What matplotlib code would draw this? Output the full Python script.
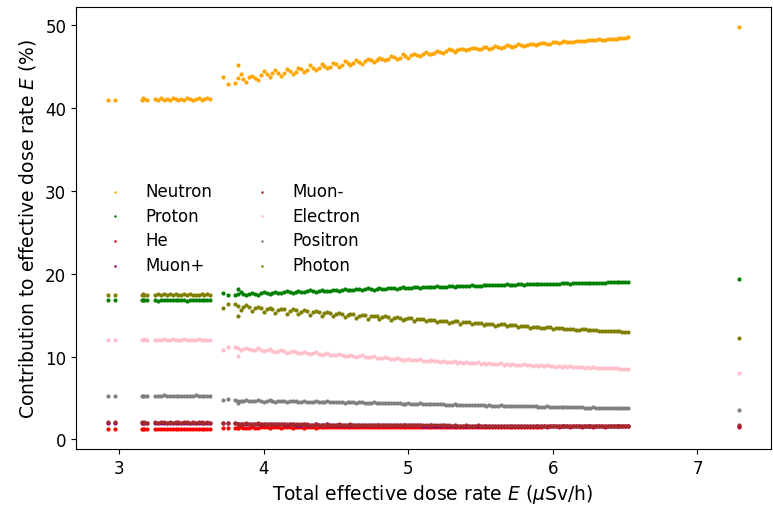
import matplotlib
matplotlib.use("Agg")
import matplotlib.pyplot as plt

plt.rcParams['font.family'] = ['DejaVu Sans']
plt.rcParams['font.size'] = 12

# Total effective dose rate (x), grouped: early, transition, main band, outlier
dose_total = [
    2.92, 2.97, 3.155, 3.165, 3.175, 3.19, 3.25, 3.27, 3.29, 3.31, 3.33, 3.35, 3.37,
    3.39, 3.41, 3.43, 3.45, 3.47, 3.49, 3.51, 3.53, 3.55, 3.57, 3.59, 3.61, 3.625,
    3.72, 3.755, 3.82,
    3.80, 3.84, 3.88, 3.92, 3.96, 4.00, 4.04, 4.08, 4.12, 4.16, 4.20, 4.24, 4.28,
    4.32, 4.36, 4.40, 4.44, 4.48, 4.52, 4.56, 4.60, 4.64, 4.68, 4.72, 4.76, 4.80,
    4.84, 4.88, 4.92, 4.96, 5.00, 5.04, 5.08, 5.12, 5.16, 5.20, 5.24, 5.28, 5.32,
    5.36, 5.40, 5.44, 5.48, 5.52, 5.56, 5.60, 5.64, 5.68, 5.72, 5.76, 5.80, 5.84,
    5.88, 5.92, 5.96, 6.00, 6.04, 6.08, 6.12, 6.16, 6.20, 6.24, 6.28, 6.32, 6.36,
    6.40, 6.44, 6.48, 6.52,
    7.29,
]
# Second row of main-band samples (in between the first row)
dose_total_b = [
    3.82, 3.86, 3.90, 3.94, 3.98, 4.02, 4.06, 4.10, 4.14, 4.18,
    4.22, 4.26, 4.30, 4.34, 4.38, 4.42, 4.46, 4.50, 4.54, 4.58,
    4.62, 4.66, 4.70, 4.74, 4.78, 4.82, 4.86, 4.90, 4.94, 4.98,
    5.02, 5.06, 5.10, 5.14, 5.18, 5.22, 5.26, 5.30, 5.34, 5.38,
    5.42, 5.46, 5.50, 5.54, 5.58, 5.62, 5.66, 5.70, 5.74, 5.78,
    5.82, 5.86, 5.90, 5.94, 5.98, 6.02, 6.06, 6.10, 6.14, 6.18,
    6.22, 6.26, 6.30, 6.34, 6.38, 6.42, 6.46, 6.50,
]

neutron = [
    40.95, 40.95, 41.05, 41.2, 41.1, 41.0, 41.1, 41.0, 41.2, 41.05, 41.15, 41.0, 41.2,
    41.1, 41.0, 41.15, 41.05, 41.2, 41.1, 41.0, 41.15, 41.2, 41.05, 41.1, 41.2, 41.15,
    43.8, 42.9, 45.2,
    43.0, 44.1, 43.2, 43.9, 43.4, 44.5, 43.8, 44.6, 43.9, 44.7, 44.1, 44.9, 44.4,
    45.2, 44.6, 45.3, 44.8, 45.5, 45.0, 45.7, 45.2, 45.8, 45.4, 46.0, 45.6, 46.1,
    45.8, 46.3, 45.9, 46.5, 46.1, 46.6, 46.3, 46.8, 46.5, 46.9, 46.7, 47.1, 46.8,
    47.2, 47.0, 47.3, 47.1, 47.4, 47.2, 47.5, 47.3, 47.6, 47.45, 47.7, 47.55, 47.8,
    47.65, 47.9, 47.75, 48.0, 47.9, 48.1, 47.95, 48.15, 48.1, 48.25, 48.2, 48.35, 48.3,
    48.42, 48.4, 48.5, 48.55,
    49.8,
]
neutron_b = [
    43.6, 43.5, 43.8, 43.6, 44.0, 44.1, 44.2, 44.3, 44.2, 44.5,
    44.4, 44.7, 44.6, 44.9, 44.8, 45.1, 45.0, 45.3, 45.2, 45.5,
    45.5, 45.6, 45.7, 45.8, 45.8, 46.0, 46.0, 46.2, 46.1, 46.3,
    46.4, 46.4, 46.6, 46.6, 46.7, 46.8, 46.9, 47.0, 47.0, 47.1,
    47.1, 47.25, 47.2, 47.35, 47.3, 47.45, 47.4, 47.55, 47.5, 47.65,
    47.6, 47.75, 47.7, 47.85, 47.8, 47.95, 47.95, 48.05, 48.05, 48.15,
    48.15, 48.2, 48.25, 48.3, 48.35, 48.4, 48.45, 48.5,
]

proton = [
    16.8, 16.8, 16.82, 16.78, 16.85, 16.8, 16.83, 16.77, 16.82, 16.8, 16.85, 16.78, 16.81,
    16.84, 16.79, 16.82, 16.8, 16.77, 16.83, 16.81, 16.78, 16.84, 16.8, 16.82, 16.79, 16.81,
    17.67, 17.4, 18.15,
    17.4, 17.75, 17.45, 17.7, 17.5, 17.8, 17.55, 17.85, 17.65, 17.9, 17.7, 17.95, 17.8,
    18.0, 17.85, 18.05, 17.9, 18.1, 17.95, 18.15, 18.0, 18.2, 18.05, 18.25, 18.1, 18.3,
    18.15, 18.3, 18.2, 18.35, 18.25, 18.4, 18.3, 18.45, 18.35, 18.5, 18.4, 18.55, 18.45,
    18.58, 18.5, 18.6, 18.55, 18.65, 18.6, 18.68, 18.63, 18.72, 18.67, 18.75, 18.7, 18.78,
    18.74, 18.8, 18.77, 18.83, 18.8, 18.86, 18.83, 18.89, 18.87, 18.92, 18.9, 18.95, 18.93,
    18.97, 18.96, 19.0, 19.0,
    19.4,
]
proton_b = [
    17.55, 17.6, 17.6, 17.62, 17.65, 17.68, 17.7, 17.72, 17.75, 17.78,
    17.82, 17.85, 17.88, 17.9, 17.93, 17.96, 17.98, 18.0, 18.03, 18.06,
    18.09, 18.12, 18.14, 18.17, 18.2, 18.22, 18.24, 18.26, 18.28, 18.31,
    18.33, 18.35, 18.37, 18.39, 18.41, 18.43, 18.45, 18.48, 18.5, 18.52,
    18.54, 18.56, 18.58, 18.6, 18.62, 18.64, 18.66, 18.68, 18.7, 18.72,
    18.74, 18.76, 18.78, 18.8, 18.81, 18.83, 18.85, 18.87, 18.88, 18.9,
    18.91, 18.93, 18.94, 18.95, 18.97, 18.98, 18.99, 19.0,
]

helium = [
    1.29, 1.29, 1.3, 1.27, 1.31, 1.28, 1.3, 1.27, 1.29, 1.31, 1.28, 1.3, 1.27,
    1.29, 1.31, 1.28, 1.3, 1.29, 1.27, 1.31, 1.28, 1.3, 1.29, 1.27, 1.3, 1.28,
    1.37, 1.37, 1.4,
    1.38, 1.47, 1.39, 1.48, 1.4, 1.48, 1.41, 1.49, 1.42, 1.49, 1.43, 1.5, 1.44,
    1.5, 1.44, 1.51, 1.45, 1.51, 1.46, 1.52, 1.46, 1.52, 1.47, 1.52, 1.48, 1.53,
    1.48, 1.53, 1.49, 1.53, 1.49, 1.54, 1.5, 1.54, 1.5, 1.54, 1.51, 1.54, 1.51,
    1.55, 1.52, 1.55, 1.52, 1.55, 1.53, 1.55, 1.53, 1.56, 1.53, 1.56, 1.54, 1.56,
    1.54, 1.56, 1.55, 1.57, 1.55, 1.57, 1.55, 1.57, 1.56, 1.57, 1.56, 1.57, 1.56,
    1.58, 1.57, 1.58, 1.57,
    1.55,
]
helium_b = [
    1.43, 1.43, 1.44, 1.44, 1.45, 1.45, 1.46, 1.46, 1.46, 1.47,
    1.47, 1.47, 1.48, 1.48, 1.48, 1.49, 1.49, 1.49, 1.5, 1.5,
    1.5, 1.5, 1.51, 1.51, 1.51, 1.51, 1.52, 1.52, 1.52, 1.52,
    1.53, 1.53, 1.53, 1.53, 1.53, 1.54, 1.54, 1.54, 1.54, 1.54,
    1.55, 1.55, 1.55, 1.55, 1.55, 1.55, 1.56, 1.56, 1.56, 1.56,
    1.56, 1.56, 1.56, 1.57, 1.57, 1.57, 1.57, 1.57, 1.57, 1.57,
    1.57, 1.57, 1.58, 1.58, 1.58, 1.58, 1.58, 1.58,
]

muon_plus = [
    2.01, 2.01, 2.02, 1.99, 2.03, 2.0, 2.02, 1.99, 2.01, 2.03, 2.0, 2.02, 1.99,
    2.01, 2.03, 2.0, 2.02, 2.01, 1.99, 2.03, 2.0, 2.02, 2.01, 1.99, 2.02, 2.0,
    1.95, 1.95, 1.9,
    1.94, 1.84, 1.92, 1.83, 1.91, 1.82, 1.89, 1.81, 1.88, 1.8,
    1.86, 1.79, 1.85, 1.78, 1.83, 1.77, 1.82, 1.76, 1.8, 1.75,
    1.79, 1.74, 1.77, 1.73, 1.76, 1.72, 1.75, 1.71, 1.73, 1.7,
    1.72, 1.69, 1.71, 1.68, 1.7, 1.67, 1.69, 1.67, 1.68, 1.66,
    1.67, 1.65, 1.66, 1.65, 1.65, 1.64, 1.64, 1.63, 1.63, 1.63,
    1.63, 1.62, 1.62, 1.62, 1.61, 1.61, 1.61, 1.61, 1.6, 1.6,
    1.6, 1.6, 1.59, 1.59, 1.59, 1.59, 1.58, 1.58, 1.58,
    1.65,
]
muon_plus_b = [
    1.88, 1.87, 1.86, 1.85, 1.85, 1.84, 1.83, 1.82, 1.82, 1.81,
    1.8, 1.8, 1.79, 1.78, 1.78, 1.77, 1.76, 1.76, 1.75, 1.75,
    1.74, 1.74, 1.73, 1.73, 1.72, 1.72, 1.71, 1.71, 1.7, 1.7,
    1.69, 1.69, 1.68, 1.68, 1.68, 1.67, 1.67, 1.66, 1.66, 1.66,
    1.65, 1.65, 1.65, 1.64, 1.64, 1.64, 1.63, 1.63, 1.63, 1.63,
    1.62, 1.62, 1.62, 1.61, 1.61, 1.61, 1.61, 1.6, 1.6, 1.6,
    1.6, 1.6, 1.6, 1.59, 1.59, 1.59, 1.59, 1.59,
]

muon_minus = [
    2.05, 2.05, 2.06, 2.03, 2.07, 2.04, 2.06, 2.03, 2.05, 2.07, 2.04, 2.06, 2.03,
    2.05, 2.07, 2.04, 2.06, 2.05, 2.03, 2.07, 2.04, 2.06, 2.05, 2.03, 2.06, 2.04,
    1.97, 1.97, 1.9,
    1.97, 1.86, 1.95, 1.85, 1.94, 1.84, 1.92, 1.83, 1.91, 1.82, 1.89, 1.81, 1.88,
    1.8, 1.86, 1.79, 1.85, 1.78, 1.83, 1.77, 1.82, 1.76, 1.8, 1.75, 1.79, 1.74,
    1.78, 1.73, 1.76, 1.72, 1.75, 1.71, 1.74, 1.7, 1.73, 1.69, 1.72, 1.69, 1.71,
    1.68, 1.7, 1.67, 1.69, 1.67, 1.68, 1.66, 1.67, 1.65, 1.66, 1.65, 1.66, 1.64,
    1.65, 1.64, 1.64, 1.63, 1.64, 1.63, 1.63, 1.62, 1.63, 1.62, 1.62, 1.61, 1.62,
    1.61, 1.61, 1.61, 1.61,
    1.7,
]
muon_minus_b = [
    1.9, 1.89, 1.88, 1.87, 1.87, 1.86, 1.85, 1.84, 1.84, 1.83,
    1.82, 1.82, 1.81, 1.8, 1.8, 1.79, 1.78, 1.78, 1.77, 1.77,
    1.76, 1.76, 1.75, 1.75, 1.74, 1.74, 1.73, 1.73, 1.72, 1.72,
    1.71, 1.71, 1.7, 1.7, 1.7, 1.69, 1.69, 1.68, 1.68, 1.68,
    1.67, 1.67, 1.67, 1.66, 1.66, 1.66, 1.65, 1.65, 1.65, 1.65,
    1.64, 1.64, 1.64, 1.63, 1.63, 1.63, 1.63, 1.62, 1.62, 1.62,
    1.62, 1.62, 1.62, 1.61, 1.61, 1.61, 1.61, 1.61,
]

electron = [
    12.04, 12.04, 12.05, 12.0, 12.08, 12.03, 12.06, 12.01, 12.05, 12.08, 12.02, 12.04, 12.07,
    12.0, 12.05, 12.03, 12.08, 12.02, 12.06, 12.04, 12.01, 12.07, 12.03, 12.05, 12.02, 12.06,
    10.83, 11.11, 10.02,
    11.2, 10.8, 11.1, 10.75, 11.0, 10.65, 10.9, 10.55, 10.8, 10.45, 10.7, 10.4, 10.6,
    10.3, 10.5, 10.25, 10.4, 10.15, 10.3, 10.1, 10.25, 10.0, 10.15, 9.9, 10.05, 9.8,
    9.95, 9.75, 9.85, 9.65, 9.75, 9.6, 9.7, 9.5, 9.6, 9.45, 9.52, 9.38, 9.45,
    9.32, 9.38, 9.26, 9.3, 9.2, 9.25, 9.14, 9.18, 9.08, 9.12, 9.03, 9.06, 8.98,
    9.0, 8.93, 8.95, 8.88, 8.88, 8.83, 8.83, 8.77, 8.77, 8.72, 8.71, 8.66, 8.65,
    8.61, 8.6, 8.56, 8.54,
    8.0,
]
electron_b = [
    11.0, 10.95, 10.9, 10.85, 10.82, 10.78, 10.72, 10.68, 10.62, 10.58,
    10.52, 10.48, 10.44, 10.38, 10.34, 10.3, 10.25, 10.2, 10.15, 10.1,
    10.06, 10.02, 9.97, 9.92, 9.88, 9.83, 9.78, 9.74, 9.69, 9.64,
    9.6, 9.55, 9.51, 9.46, 9.42, 9.38, 9.34, 9.31, 9.28, 9.25,
    9.22, 9.19, 9.16, 9.13, 9.1, 9.07, 9.04, 9.01, 8.98, 8.95,
    8.93, 8.9, 8.87, 8.85, 8.82, 8.8, 8.77, 8.75, 8.72, 8.7,
    8.67, 8.65, 8.63, 8.61, 8.59, 8.57, 8.55, 8.53,
]

positron = [
    5.28, 5.28, 5.3, 5.26, 5.29, 5.27, 5.3, 5.25, 5.28, 5.31, 5.26, 5.29, 5.27,
    5.3, 5.25, 5.28, 5.3, 5.26, 5.29, 5.27, 5.31, 5.26, 5.28, 5.3, 5.27, 5.29,
    4.71, 4.87, 4.38,
    4.8, 4.62, 4.78, 4.6, 4.75, 4.58, 4.72, 4.57, 4.7, 4.55, 4.67, 4.53, 4.65,
    4.51, 4.62, 4.5, 4.6, 4.47, 4.57, 4.45, 4.55, 4.43, 4.52, 4.4, 4.48, 4.37,
    4.45, 4.35, 4.41, 4.32, 4.38, 4.29, 4.34, 4.26, 4.3, 4.23, 4.26, 4.19, 4.22,
    4.16, 4.19, 4.13, 4.16, 4.1, 4.13, 4.07, 4.1, 4.05, 4.07, 4.02, 4.04, 3.99,
    4.01, 3.96, 3.98, 3.94, 3.95, 3.91, 3.92, 3.88, 3.89, 3.85, 3.86, 3.82, 3.82,
    3.79, 3.79, 3.76, 3.75,
    3.5,
]
positron_b = [
    4.7, 4.69, 4.68, 4.67, 4.66, 4.65, 4.64, 4.63, 4.62, 4.61,
    4.6, 4.58, 4.57, 4.56, 4.55, 4.54, 4.53, 4.52, 4.51, 4.49,
    4.48, 4.46, 4.45, 4.43, 4.41, 4.39, 4.38, 4.36, 4.34, 4.32,
    4.31, 4.29, 4.27, 4.25, 4.23, 4.22, 4.2, 4.18, 4.17, 4.15,
    4.14, 4.12, 4.11, 4.09, 4.08, 4.06, 4.05, 4.03, 4.02, 4.0,
    3.99, 3.98, 3.96, 3.95, 3.93, 3.92, 3.9, 3.89, 3.87, 3.86,
    3.84, 3.83, 3.82, 3.8, 3.79, 3.78, 3.77, 3.75,
]

photon = [
    17.5, 17.5, 17.48, 17.53, 17.45, 17.5, 17.47, 17.54, 17.49, 17.52, 17.45, 17.51, 17.48,
    17.55, 17.5, 17.46, 17.52, 17.49, 17.53, 17.47, 17.5, 17.45, 17.52, 17.48, 17.51, 17.49,
    15.86, 16.39, 14.94,
    16.3, 15.6, 16.2, 15.5, 16.0, 15.4, 15.9, 15.3, 15.8, 15.2, 15.7, 15.1, 15.6,
    15.0, 15.5, 14.95, 15.4, 14.85, 15.3, 14.8, 15.2, 14.7, 15.05, 14.6, 14.95, 14.5,
    14.85, 14.45, 14.75, 14.4, 14.65, 14.3, 14.55, 14.25, 14.45, 14.2, 14.35, 14.1, 14.3,
    14.0, 14.2, 13.95, 14.1, 13.85, 14.0, 13.75, 13.9, 13.7, 13.8, 13.6, 13.7, 13.5,
    13.6, 13.45, 13.52, 13.38, 13.45, 13.33, 13.38, 13.27, 13.3, 13.2, 13.23, 13.13, 13.15,
    13.06, 13.07, 12.98, 12.96,
    12.24,
]
photon_b = [
    16.1, 15.95, 16.0, 15.85, 15.9, 15.75, 15.8, 15.65, 15.7, 15.55,
    15.6, 15.45, 15.5, 15.35, 15.4, 15.25, 15.3, 15.15, 15.2, 15.05,
    15.1, 14.95, 15.0, 14.85, 14.9, 14.75, 14.8, 14.68, 14.72, 14.6,
    14.62, 14.5, 14.53, 14.42, 14.44, 14.33, 14.35, 14.24, 14.26, 14.15,
    14.17, 14.06, 14.08, 13.96, 14.0, 13.87, 13.9, 13.78, 13.8, 13.68,
    13.71, 13.59, 13.62, 13.5, 13.53, 13.41, 13.44, 13.34, 13.37, 13.27,
    13.3, 13.2, 13.23, 13.13, 13.15, 13.06, 13.08, 12.99,
]

series_names = ['Neutron', 'Proton', 'He', 'Muon+', 'Muon-', 'Electron', 'Positron', 'Photon']
series_values = [neutron, proton, helium, muon_plus, muon_minus, electron, positron, photon]
series_values_b = [neutron_b, proton_b, helium_b, muon_plus_b, muon_minus_b,
                   electron_b, positron_b, photon_b]
series_colors = ['orange', 'green', 'red', 'purple', 'brown', 'pink', 'gray', 'olive']

fig = plt.figure(figsize=(7.73, 5.06), dpi=100)
ax = fig.add_axes([76 / 773, 56 / 506, 695 / 773, 442 / 506])

x_all = dose_total + dose_total_b
for name, vals, vals_b, col in zip(series_names, series_values, series_values_b, series_colors):
    ax.scatter(x_all, vals + vals_b, s=9, color=col, label=name, linewidths=0)

ax.set_xlabel('Total effective dose rate $E$ ($\\mu$Sv/h)', fontsize=13.5)
ax.xaxis.label.set_x(0.513)
ax.set_ylabel('Contribution to effective dose rate $E$ (%)', fontsize=13.5, labelpad=5)
ax.set_yticks([0, 10, 20, 30, 40, 50])
ax.set_xticks([3, 4, 5, 6, 7])

ax.legend(ncol=2, frameon=False, loc='center left', bbox_to_anchor=(0.011, 0.50),
          markerscale=0.6, handletextpad=0.8, columnspacing=2.0, labelspacing=0.4)

fig.savefig('out.png', dpi=100)
